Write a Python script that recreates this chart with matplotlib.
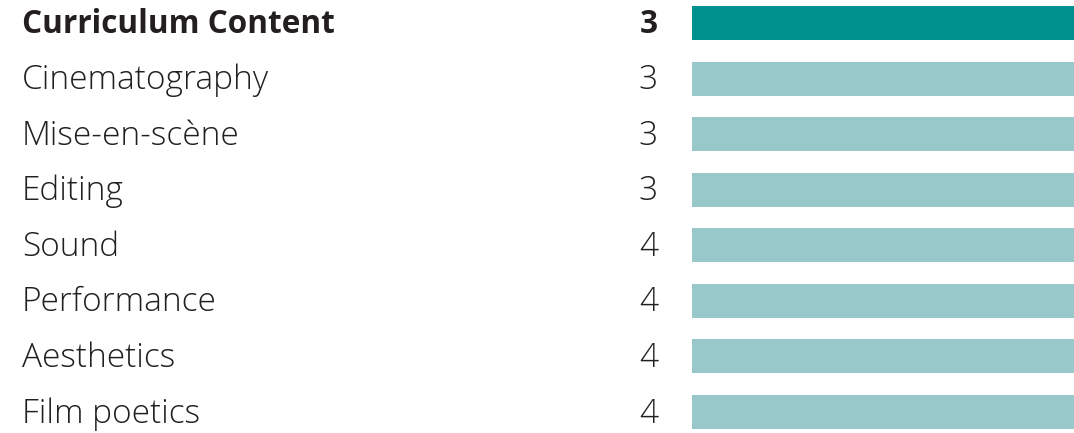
import matplotlib.pyplot as plt
from matplotlib.transforms import blended_transform_factory

labels = ['Curriculum Content', 'Cinematography', 'Mise-en-scène', 'Editing',
          'Sound', 'Performance', 'Aesthetics', 'Film poetics']
scores = [3, 3, 3, 3, 4, 4, 4, 4]
# every bar is drawn full width in the original
bar_fill = [1, 1, 1, 1, 1, 1, 1, 1]

dark = '#00918e'
light = '#99c8ca'
text_col = '#231f20'

fig = plt.figure(figsize=(10.74, 4.33), dpi=100)
ax = fig.add_axes([692 / 1074, -6.8 / 433, 1 - 692 / 1074, 1 + 11.6 / 433])

ypos = list(range(len(labels)))
colors = [dark] + [light] * (len(labels) - 1)
ax.barh(ypos, bar_fill, height=0.612, color=colors, left=0)
ax.set_xlim(0, 1)
ax.set_ylim(len(labels) - 0.5, -0.5)
ax.axis('off')

tr = blended_transform_factory(fig.transFigure, ax.transData)
for i, (lab, sc) in enumerate(zip(labels, scores)):
    if i == 0:
        w, fs = 'bold', 22.7
    else:
        w, fs = 300, 24
    ax.text(22 / 1074, i - 0.04, lab, transform=tr, ha='left', va='center_baseline',
            fontsize=fs, fontfamily='Open Sans', fontweight=w, color=text_col)
    ax.text(658 / 1074, i - 0.04, str(sc), transform=tr, ha='right', va='center_baseline',
            fontsize=fs, fontfamily='Open Sans', fontweight=w, color=text_col)

fig.savefig('out.png', dpi=100)
